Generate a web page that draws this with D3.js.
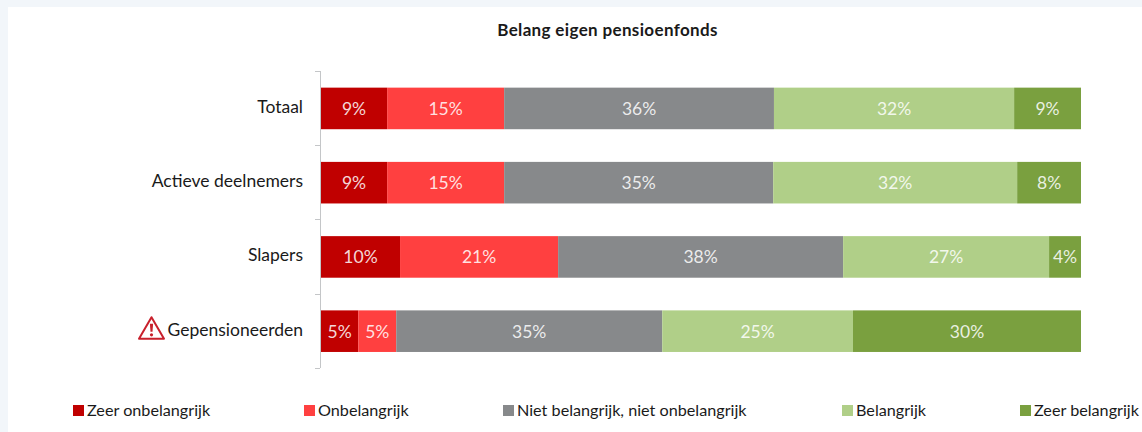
<!DOCTYPE html>
<html>
    <head>
        <meta charset="utf-8">
        <script src="https://d3js.org/d3.v7.min.js"></script>
        <style>
            html, body { margin: 0; padding: 0; background: #f2f6fa; }
            svg { display: block; font-family: Lato, sans-serif; }
        </style>
    </head>
    <body>
        <svg width="1142" height="432"></svg>

        <script>
            // data
            const categories = ["Totaal", "Actieve deelnemers", "Slapers", "Gepensioneerden"];
            const seriesNames = ["Zeer onbelangrijk", "Onbelangrijk", "Niet belangrijk, niet onbelangrijk", "Belangrijk", "Zeer belangrijk"];
            const seriesColors = ["#c00000", "#ff4040", "#87898b", "#b0cf88", "#7aa03f"];
            const zeerOnbelangrijk = [8.7, 8.7, 10.4, 4.9];
            const onbelangrijk = [15.4, 15.4, 20.8, 5.0];
            const neutraal = [35.5, 35.4, 37.5, 35.0];
            const belangrijk = [31.6, 32.1, 27.1, 25.1];
            const zeerBelangrijk = [8.8, 8.4, 4.2, 30.0];
            const legendX = [73, 304, 503, 842, 1020];
            const title = "Belang eigen pensioenfonds";

            const svg = d3.select("svg");

            // white panel on the pale page background
            svg.append("rect")
                .attr("x", 8).attr("y", 7)
                .attr("width", 1134).attr("height", 425)
                .attr("fill", "white");

            const rows = categories.map((c, i) => ({
                category: c,
                0: zeerOnbelangrijk[i], 1: onbelangrijk[i], 2: neutraal[i], 3: belangrijk[i], 4: zeerBelangrijk[i]
            }));
            const stacked = d3.stack().keys([0, 1, 2, 3, 4])(rows);

            const x = d3.scaleLinear().domain([0, 100]).range([321, 1081]);
            const y = d3.scaleBand().domain(categories).range([71.3, 368.3]).paddingInner(0.44).paddingOuter(0.22);

            // title
            svg.append("text")
                .attr("x", 607.5).attr("y", 35.5)
                .attr("text-anchor", "middle")
                .attr("font-size", 17).attr("font-weight", 700)
                .attr("letter-spacing", 0.35)
                .attr("fill", "#1a1a1a")
                .text(title);

            // y axis with ticks between the categories
            const axisColor = "#c4c6c8";
            svg.append("line")
                .attr("x1", 320.5).attr("x2", 320.5).attr("y1", 71).attr("y2", 368)
                .attr("stroke", axisColor);
            svg.append("g")
                .selectAll("line")
                .data(d3.range(categories.length + 1))
                .join("line")
                .attr("x1", 315).attr("x2", 320)
                .attr("y1", i => Math.floor(71.3 + i * y.step()) + 0.5)
                .attr("y2", i => Math.floor(71.3 + i * y.step()) + 0.5)
                .attr("stroke", axisColor);

            svg.append("g")
                .selectAll("text")
                .data(categories)
                .join("text")
                .attr("x", 303)
                .attr("y", d => y(d) + y.bandwidth() / 2 + 4.5)
                .attr("text-anchor", "end")
                .attr("font-size", 17.5)
                .attr("fill", "#1a1a1a")
                .text(d => d);

            // stacked bars
            const groups = svg.append("g")
                .selectAll("g")
                .data(stacked)
                .join("g")
                .attr("fill", (d, i) => seriesColors[i]);

            groups.selectAll("rect")
                .data(d => d)
                .join("rect")
                .attr("x", d => x(d[0]))
                .attr("y", d => y(d.data.category))
                .attr("width", d => x(d[1]) - x(d[0]))
                .attr("height", y.bandwidth());

            groups.selectAll("text")
                .data(d => d)
                .join("text")
                .attr("x", d => (x(d[0]) + x(d[1])) / 2)
                .attr("y", d => y(d.data.category) + y.bandwidth() / 2 + 6.5)
                .attr("text-anchor", "middle")
                .attr("font-size", 17.5)
                .attr("fill", "white")
                .attr("fill-opacity", 0.85)
                .text(d => Math.round(d[1] - d[0]) + "%");

            // warning triangle in front of Gepensioneerden
            const warn = svg.append("g")
                .attr("transform", `translate(151.5,${y("Gepensioneerden") + y.bandwidth() / 2 - 2.5})`);
            warn.append("path")
                .attr("d", "M0,-11.5 L12.5,10 L-12.5,10 Z")
                .attr("fill", "white")
                .attr("stroke", "#c8202c")
                .attr("stroke-width", 2)
                .attr("stroke-linejoin", "round");
            warn.append("path")
                .attr("d", "M-1.6,-5 L1.6,-5 L1,3 L-1,3 Z")
                .attr("fill", "#c8202c");
            warn.append("circle")
                .attr("cy", 6.2).attr("r", 1.6)
                .attr("fill", "#c8202c");

            // legend
            const legend = svg.append("g")
                .selectAll("g")
                .data(seriesNames)
                .join("g")
                .attr("transform", (d, i) => `translate(${legendX[i]},405)`);
            legend.append("rect")
                .attr("width", 11).attr("height", 11)
                .attr("fill", (d, i) => seriesColors[i]);
            legend.append("text")
                .attr("x", 14).attr("y", 11)
                .attr("font-size", 16.2)
                .attr("fill", "#1a1a1a")
                .text(d => d);
        </script>
    </body>
</html>
